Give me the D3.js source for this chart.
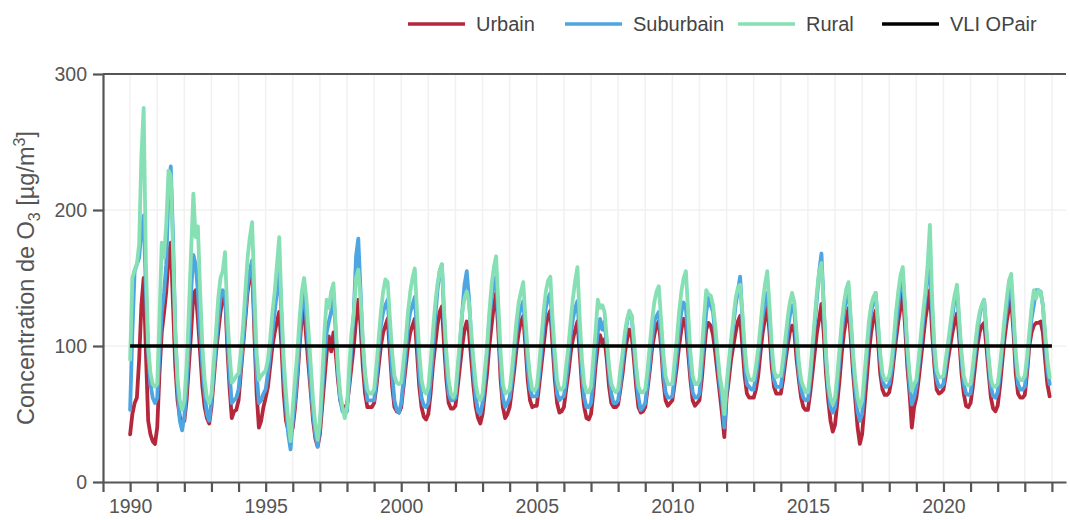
<!DOCTYPE html>
<html>
<head>
<meta charset="utf-8">
<script src="https://cdn.jsdelivr.net/npm/d3@7"></script>
<style>
  html, body { margin: 0; padding: 0; background: #fff; }
  body { font-family: "Liberation Sans", Arial, sans-serif; }
</style>
</head>
<body>
<div id="chart"></div>
<script>
// Monthly values, Jan 1990 -> Dec 2023, one row per year
var startYear = 1990;

var urbain = [
  35,50,58,62,90,130,150,95,45,35,30,28,
  40,80,110,124,140,165,176,130,85,60,48,43,
  45,60,85,110,138,141,120,95,70,55,47,43,
  55,75,95,110,125,135,139,100,70,47,52,53,
  60,80,100,120,140,150,161,110,65,40,45,55,
  62,70,85,100,110,118,125,100,65,45,38,35,
  40,55,75,100,120,128,105,85,65,45,32,26,
  35,55,75,95,107,96,110,95,75,60,55,55,
  57,70,85,100,119,134,115,85,65,55,55,55,
  58,70,85,100,110,115,120,95,70,55,52,51,
  55,70,85,100,110,115,120,95,70,55,48,46,
  50,65,85,100,115,125,129,100,75,58,54,54,
  56,70,85,100,112,118,110,90,70,55,47,43,
  50,65,80,100,115,130,139,110,75,55,47,50,
  55,68,82,98,110,118,122,100,75,60,55,56,
  56,70,85,100,115,122,126,100,75,58,51,52,
  55,68,80,95,105,112,118,95,70,55,47,46,
  50,65,85,100,108,102,105,90,70,58,55,55,
  57,68,80,95,105,112,108,90,70,55,51,52,
  55,68,82,98,108,115,118,100,75,60,56,58,
  60,72,85,100,112,120,115,95,75,60,56,58,
  60,75,95,112,117,115,108,95,80,65,50,33,
  62,75,90,100,110,118,122,100,78,65,62,62,
  62,68,78,95,110,120,129,110,85,70,65,65,
  65,75,88,100,110,115,110,90,75,62,55,53,
  53,65,80,95,110,120,131,110,80,60,45,37,
  42,58,75,95,110,120,128,105,80,60,40,28,
  35,55,75,95,110,120,126,105,80,68,64,64,
  66,75,90,105,118,128,139,115,85,65,40,55,
  62,75,90,105,120,130,141,110,85,68,65,66,
  68,78,90,100,110,118,124,105,80,65,56,55,
  58,70,85,100,110,115,117,100,80,62,54,52,
  56,70,88,105,118,128,134,110,80,65,62,62,
  64,80,100,110,115,117,117,118,110,90,72,63
];

var suburbain = [
  53,110,155,160,165,185,196,140,95,72,62,58,
  62,95,125,139,160,215,232,180,110,70,45,38,
  48,70,100,140,167,160,140,110,85,65,50,45,
  60,80,100,120,135,141,138,110,80,58,60,62,
  68,85,105,125,145,155,163,120,80,58,60,65,
  68,80,95,110,125,140,161,120,80,55,35,24,
  45,60,80,105,130,141,120,95,70,50,35,26,
  40,65,90,110,118,125,139,110,80,60,52,50,
  52,75,100,124,166,179,140,100,75,60,60,60,
  60,75,95,115,125,130,134,105,80,60,53,51,
  58,75,95,115,125,130,136,110,80,62,56,55,
  58,75,95,120,140,155,160,120,85,65,60,60,
  62,80,100,125,145,155,135,105,80,62,52,50,
  58,75,95,120,135,145,151,120,85,62,55,58,
  62,75,92,110,122,128,133,110,85,68,63,63,
  63,78,95,115,128,135,139,112,85,65,60,62,
  63,75,90,108,120,128,133,105,80,62,55,55,
  58,75,95,110,120,112,118,100,80,65,58,58,
  60,72,88,105,118,125,122,100,78,62,53,55,
  58,72,88,105,118,122,125,108,82,66,62,62,
  63,78,95,112,125,132,128,105,82,66,62,62,
  65,85,105,125,136,130,125,108,90,72,60,40,
  66,85,100,115,130,140,151,120,90,72,70,68,
  68,78,90,108,122,132,139,120,95,75,70,70,
  70,82,95,110,122,130,125,100,80,68,62,60,
  60,75,95,115,135,155,168,130,90,68,55,51,
  55,70,90,110,125,135,141,115,88,68,52,45,
  50,70,90,110,125,133,139,115,90,75,70,70,
  72,82,98,115,130,145,152,125,95,72,57,62,
  70,85,100,118,135,150,160,125,92,75,70,70,
  72,85,98,110,122,135,141,115,90,72,65,64,
  65,80,95,110,122,130,134,110,88,70,63,62,
  66,80,98,115,128,140,145,118,90,72,68,68,
  70,85,105,120,130,141,141,140,130,105,82,72
];

var rural = [
  90,150,156,160,175,240,275,160,100,80,72,70,
  72,120,176,165,190,229,225,170,110,75,60,53,
  60,85,125,170,212,180,188,140,100,75,62,58,
  65,88,110,135,150,155,169,125,95,73,75,78,
  80,95,115,140,165,180,191,140,95,75,78,80,
  82,90,105,125,140,160,180,130,90,65,45,30,
  55,75,95,120,140,150,135,110,85,60,42,31,
  45,75,110,134,128,140,146,115,85,65,55,47,
  55,85,110,124,150,156,135,105,80,68,65,65,
  68,85,105,125,140,149,147,120,95,78,73,72,
  73,88,105,125,140,150,157,125,95,75,67,65,
  70,88,110,130,145,155,160,125,95,75,65,62,
  66,85,105,125,135,140,132,110,90,72,63,60,
  65,82,100,125,145,158,166,130,95,72,65,66,
  68,82,100,118,132,140,147,120,95,78,68,67,
  70,85,105,125,140,148,151,120,95,75,68,68,
  70,85,100,118,135,148,158,120,90,72,66,66,
  70,90,110,134,128,130,125,105,85,72,68,66,
  68,82,95,110,120,126,122,105,85,70,66,66,
  68,82,100,118,132,140,144,120,95,78,72,72,
  72,88,105,125,140,150,155,125,95,78,72,72,
  75,95,120,141,138,137,130,115,95,78,68,50,
  72,88,105,120,135,143,145,125,100,82,76,75,
  75,85,98,115,132,145,155,130,100,82,77,78,
  78,90,105,120,132,139,132,110,88,75,70,66,
  66,80,100,120,140,155,161,130,95,72,62,57,
  62,78,98,118,132,142,147,120,95,75,62,55,
  60,78,98,118,130,136,139,118,95,80,75,75,
  78,88,105,125,140,152,158,130,100,80,67,72,
  75,90,108,125,140,160,189,135,100,82,77,77,
  78,90,102,115,128,138,145,120,95,78,72,71,
  72,85,100,115,125,130,134,112,92,76,70,70,
  72,85,102,120,135,148,153,125,95,78,75,75,
  78,92,110,128,141,135,141,140,130,110,90,77
];

// limit value line
var vliYears = [1990, 2024];
var vliValues = [100, 100];

var yTicks = [0, 100, 200, 300];
var seriesNames = ["Urbain", "Suburbain", "Rural"];
var legendNames = ["Urbain", "Suburbain", "Rural", "VLI OPair"];

var w = 1070;
var h = 520;
var margin = {top: 74, right: 4, bottom: 38, left: 103};

var color = d3.scaleOrdinal()
    .domain(legendNames)
    .range(["#b5283c", "#4da6e2", "#86e0b3", "#000000"]);

var xScale = d3.scaleLinear()
    .domain([1989, 2024.52])
    .range([margin.left, w - margin.right]);

var yScale = d3.scaleLinear()
    .domain([0, 300])
    .range([h - margin.bottom, margin.top]);

var svg = d3.select("#chart")
    .append("svg")
    .attr("width", w)
    .attr("height", h)
    .style("font-family", "'Liberation Sans', Arial, sans-serif");

// gridlines
svg.append("g")
    .selectAll("line")
    .data(d3.range(1990, 2025))
    .enter()
    .append("line")
    .attr("x1", function(d) { return xScale(d); })
    .attr("x2", function(d) { return xScale(d); })
    .attr("y1", yScale(300))
    .attr("y2", yScale(0))
    .attr("stroke", "#f1f1f1")
    .attr("stroke-width", 1.5);

svg.append("g")
    .selectAll("line")
    .data([100, 200])
    .enter()
    .append("line")
    .attr("x1", margin.left)
    .attr("x2", w - margin.right)
    .attr("y1", function(d) { return yScale(d); })
    .attr("y2", function(d) { return yScale(d); })
    .attr("stroke", "#f1f1f1")
    .attr("stroke-width", 1.5);

// series lines
var table = seriesNames.map(function(name, k) {
    var vals = [urbain, suburbain, rural][k];
    return {
        key: name,
        values: vals.map(function(v, i) { return {t: startYear + i / 12, v: v}; })
    };
});

var line = d3.line()
    .x(function(d) { return xScale(d.t); })
    .y(function(d) { return yScale(d.v); });

svg.append("g")
    .selectAll("path")
    .data(table)
    .enter()
    .append("path")
    .attr("d", function(d) { return line(d.values); })
    .attr("fill", "none")
    .attr("stroke", function(d) { return color(d.key); })
    .attr("stroke-width", 3.8)
    .attr("stroke-linejoin", "round")
    .attr("stroke-linecap", "round");

// VLI line
svg.append("path")
    .datum(vliYears.map(function(t, i) { return {t: t, v: vliValues[i]}; }))
    .attr("d", line)
    .attr("fill", "none")
    .attr("stroke", color("VLI OPair"))
    .attr("stroke-width", 3.6);

// axes
var xAxis = d3.axisBottom(xScale)
    .tickValues(d3.range(1989, 2025))
    .tickSize(10)
    .tickSizeOuter(0)
    .tickPadding(7)
    .tickFormat(function(d) { return d % 5 === 0 ? d : ""; });

var yAxis = d3.axisLeft(yScale)
    .tickValues(yTicks)
    .tickSize(10)
    .tickSizeOuter(0)
    .tickPadding(6);

var gx = svg.append("g")
    .attr("transform", "translate(0," + yScale(0) + ")")
    .call(xAxis);

var gy = svg.append("g")
    .attr("transform", "translate(" + margin.left + ",0)")
    .call(yAxis);

[gx, gy].forEach(function(g) {
    g.select(".domain").attr("stroke", "#555").attr("stroke-width", 2.2);
    g.selectAll(".tick line").attr("stroke", "#555").attr("stroke-width", 2.2);
    g.selectAll(".tick text")
        .attr("fill", "#555")
        .style("font-size", "19.5px")
        .style("font-family", "'Liberation Sans', Arial, sans-serif");
});

// top border
svg.append("line")
    .attr("x1", margin.left)
    .attr("x2", w - margin.right)
    .attr("y1", yScale(300))
    .attr("y2", yScale(300))
    .attr("stroke", "#555")
    .attr("stroke-width", 2.2);

// y title
var title = svg.append("text")
    .attr("transform", "translate(34," + ((yScale(0) + yScale(300)) / 2) + ") rotate(-90)")
    .attr("text-anchor", "middle")
    .attr("fill", "#555")
    .style("font-size", "23.5px");
title.append("tspan").text("Concentration de O");
title.append("tspan").attr("dy", 6).style("font-size", "16px").text("3");
title.append("tspan").attr("dy", -6).text(" [µg/m");
title.append("tspan").attr("dy", -9).style("font-size", "16px").text("3");
title.append("tspan").attr("dy", 9).text("]");

// legend
var legendX = [408, 565, 738, 882];
var legendItems = svg.selectAll(".legend-item")
    .data(legendNames)
    .enter()
    .append("g")
    .attr("class", "legend-item")
    .attr("transform", function(d, i) { return "translate(" + legendX[i] + ",24)"; });

legendItems.append("line")
    .attr("x1", 0)
    .attr("x2", 57)
    .attr("stroke", color)
    .attr("stroke-width", 3.6);

legendItems.append("text")
    .attr("x", 68)
    .attr("y", 7)
    .attr("fill", "#444")
    .style("font-size", "20px")
    .text(function(d) { return d; });
</script>
</body>
</html>
